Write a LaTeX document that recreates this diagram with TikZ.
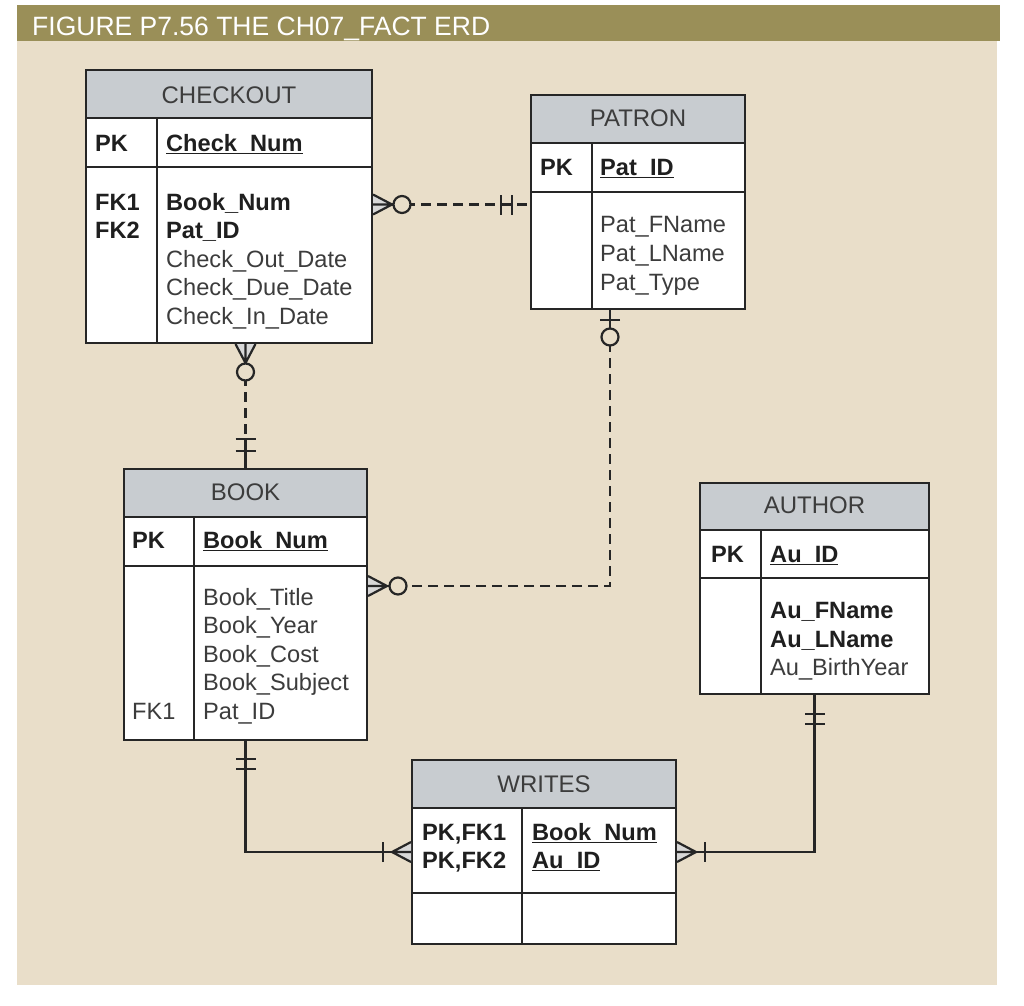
\documentclass[tikz,border=0pt]{standalone}
\usepackage{fontspec}
\setmainfont{Liberation Sans}
\usetikzlibrary{fit,calc}
\definecolor{bgc}{RGB}{233,222,201}
\definecolor{barc}{RGB}{154,143,88}
\definecolor{hdr}{RGB}{200,204,208}
\definecolor{lnc}{RGB}{38,38,38}
\definecolor{txt}{RGB}{60,60,60}
\newcommand\fs{\fontsize{23.6}{28}\selectfont}
\newcommand\ulin[1]{\leavevmode\setbox0\hbox{#1}\rlap{\rule[-3.2pt]{\wd0}{1.6pt}}\box0}
\tikzset{
  eline/.style={draw=lnc, line width=2pt},
  ebox/.style={draw=lnc, line width=2pt, inner sep=0pt},
  dline/.style={draw=lnc, line width=2.4pt, dash pattern=on 10pt off 6pt},
  sline/.style={draw=lnc, line width=2.4pt},
  cl/.style={draw=lnc, line width=2.2pt},
  hd/.style={anchor=base, inner sep=0pt, text=txt, font=\fontsize{24}{28}\selectfont},
  ar/.style={anchor=base west, inner sep=0pt, text=txt, font=\fs},
  ab/.style={anchor=base west, inner sep=0pt, text=black!88, font=\fs\bfseries},
}
\newcommand\entity[8]{%
  \fill[hdr] (#2,#3) rectangle (#4,#6);
  \fill[white] (#2,#6) rectangle (#4,#5);
  \draw[eline] (#2,#6) -- (#4,#6) (#2,#7) -- (#4,#7) (#8,#6) -- (#8,#5);
  \node[ebox, fit={(#2,#3) (#4,#5)}] (#1) {};
}
\newcommand\cfoot[2]{\begin{scope}[shift={(#1)},rotate=#2]
  \fill[lnc!18] (0,-10) -- (19,0) -- (0,10) -- cycle;
  \draw[cl, line join=miter] (0,-10) -- (19,0) -- (0,10) (0,0) -- (19,0);\end{scope}}
\newcommand\cring[3]{\begin{scope}[shift={(#1)},rotate=#2]
  \draw[cl, fill=bgc] (#3,0) circle[radius=8.5pt];\end{scope}}
\newcommand\cbar[3]{\begin{scope}[shift={(#1)},rotate=#2]
  \draw[cl] (#3,-10) -- (#3,10);\end{scope}}
\newcommand\cseg[4]{\begin{scope}[shift={(#1)},rotate=#2]
  \draw[cl] (#3,0) -- (#4,0);\end{scope}}
\begin{document}
\begin{tikzpicture}[x=1pt,y=-1pt]
\useasboundingbox (0,0) rectangle (1024,1005);
\fill[white] (0,0) rectangle (1024,1005);
\fill[bgc] (17,41) rectangle (997,985);
\fill[barc] (17,5) rectangle (1000,41);
\node[anchor=base west, inner sep=0pt, text=white, font=\fontsize{26.5}{30}\selectfont] (title) at (32,35) {FIGURE P7.56 THE CH07\_FACT ERD};

% entities
\entity{checkout}{86}{70}{372}{343}{118}{167}{157}
\entity{patron}{531}{95}{745}{309}{143}{192}{592}
\entity{book}{124}{469}{367}{740}{517}{566}{194}
\entity{author}{700}{483}{929}{694}{530}{578}{761}
\entity{writes}{412}{760}{676}{944}{808}{893}{522}

% CHECKOUT texts
\node[hd] (tCheckout) at (229,103) {CHECKOUT};
\node[ab] (tC1) at (95,151) {PK};
\node[ab] (tC2) at (166,151) {\ulin{Check\_Num}};
\node[ab] (tC3) at (95,210) {FK1};
\node[ab] (tC4) at (95,238.5) {FK2};
\node[ab] (tC5) at (166,210) {Book\_Num};
\node[ab] (tC6) at (166,238.5) {Pat\_ID};
\node[ar] (tC7) at (166,267) {Check\_Out\_Date};
\node[ar] (tC8) at (166,295.5) {Check\_Due\_Date};
\node[ar] (tC9) at (166,324) {Check\_In\_Date};

% PATRON texts
\node[hd] (tPatron) at (638,126) {PATRON};
\node[ab] (tP1) at (540,175) {PK};
\node[ab] (tP2) at (600,175) {\ulin{Pat\_ID}};
\node[ar] (tP3) at (600,232) {Pat\_FName};
\node[ar] (tP4) at (600,261) {Pat\_LName};
\node[ar] (tP5) at (600,290) {Pat\_Type};

% BOOK texts
\node[hd] (tBook) at (245.5,500) {BOOK};
\node[ab] (tB1) at (132,548) {PK};
\node[ab] (tB2) at (203,548) {\ulin{Book\_Num}};
\node[ar] (tB3) at (203,605) {Book\_Title};
\node[ar] (tB4) at (203,633.5) {Book\_Year};
\node[ar] (tB5) at (203,662) {Book\_Cost};
\node[ar] (tB6) at (203,690.5) {Book\_Subject};
\node[ar] (tB7) at (132,719) {FK1};
\node[ar] (tB8) at (203,719) {Pat\_ID};

% AUTHOR texts
\node[hd] (tAuthor) at (814.5,513) {AUTHOR};
\node[ab] (tA1) at (711,562) {PK};
\node[ab] (tA2) at (770,562) {\ulin{Au\_ID}};
\node[ab] (tA3) at (770,618) {Au\_FName};
\node[ab] (tA4) at (770,647) {Au\_LName};
\node[ar] (tA5) at (770,675.5) {Au\_BirthYear};

% WRITES texts
\node[hd] (tWrites) at (544,792) {WRITES};
\node[ab] (tW1) at (422,840) {PK,FK1};
\node[ab] (tW2) at (422,868) {PK,FK2};
\node[ab] (tW3) at (532,840) {\ulin{Book\_Num}};
\node[ab] (tW4) at (532,868) {\ulin{Au\_ID}};

% CHECKOUT - PATRON
\coordinate (cpA) at ([yshift=2pt]checkout.east);
\coordinate (cpB) at (cpA -| patron.west);
\draw[dline] (cpA) -- (cpB);
\cfoot{cpA}{0}
\cring{cpA}{0}{29}
\cseg{cpB}{180}{18}{29}
\cbar{cpB}{180}{18}
\cbar{cpB}{180}{29}

% CHECKOUT - BOOK
\coordinate (cbB) at (book.north);
\coordinate (cbA) at (book.north |- checkout.south);
\draw[dline] (cbA) -- (cbB);
\cfoot{cbA}{-90}
\cring{cbA}{-90}{28}
\cseg{cbB}{90}{0}{29}
\cbar{cbB}{90}{17}
\cbar{cbB}{90}{29}

% PATRON - BOOK
\coordinate (pbA) at ([xshift=-28pt]patron.south);
\coordinate (pbB) at ([yshift=18.5pt]book.east);
\draw[dline] (pbA) |- (pbB);
\cseg{pbA}{-90}{0}{18}
\cbar{pbA}{-90}{10}
\cring{pbA}{-90}{27}
\cfoot{pbB}{0}
\cring{pbB}{0}{30}

% BOOK - WRITES
\draw[sline] (book.south) |- (writes.west);
\cbar{book.south}{-90}{18}
\cbar{book.south}{-90}{28}
\cfoot{writes.west}{180}
\cbar{writes.west}{180}{28}

% AUTHOR - WRITES
\draw[sline] (author.south) |- (writes.east);
\cbar{author.south}{-90}{19}
\cbar{author.south}{-90}{29}
\cfoot{writes.east}{0}
\cbar{writes.east}{0}{28}
\end{tikzpicture}
\end{document}
